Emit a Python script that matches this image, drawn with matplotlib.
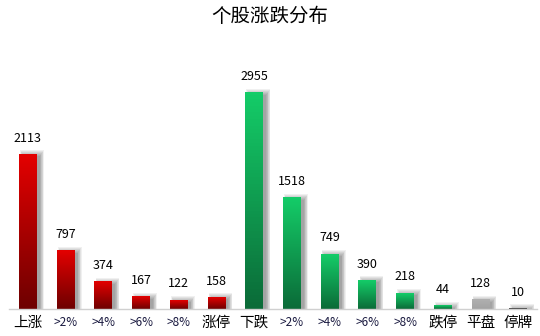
import numpy as np
import matplotlib.pyplot as plt
from matplotlib.colors import LinearSegmentedColormap

plt.rcParams['font.family'] = ['Noto Sans CJK SC', 'DejaVu Sans']

# 数据
labels = ['上涨', '>2%', '>4%', '>6%', '>8%', '涨停', '下跌', '>2%', '>4%', '>6%', '>8%', '跌停', '平盘', '停牌']
values = [2113, 797, 374, 167, 122, 158, 2955, 1518, 749, 390, 218, 44, 128, 10]
groups = ['r'] * 6 + ['g'] * 6 + ['gray', 'dark']

cmaps = {
    'r': LinearSegmentedColormap.from_list('r', ['#6e0000', '#e30000']),
    'g': LinearSegmentedColormap.from_list('g', ['#0b6b38', '#14cc68']),
    'gray': LinearSegmentedColormap.from_list('gray', ['#a3a3a3', '#b0b0b0']),
    'dark': LinearSegmentedColormap.from_list('dark', ['#404040', '#404040']),
}

fig = plt.figure(figsize=(5.4, 3.36), dpi=100)
ax = fig.add_axes([9 / 540, 27 / 336, 528 / 540, 256 / 336])
ymax = 3500
ax.set_xlim(-0.5, len(values) - 0.5)
ax.set_ylim(0, ymax)

w = 0.47
grad = np.linspace(0, 1, 64).reshape(-1, 1)
# 阴影的偏移（数据坐标）
dx = 0.11
px = ymax / 256
for i, (v, g) in enumerate(zip(values, groups)):
    # 模糊阴影
    for k in range(7):
        ax.bar(i + dx, v + (4 - k) * px, width=w + 0.16 - k * 0.035,
               bottom=0, color='black', alpha=0.06, linewidth=0, zorder=1)
    ax.imshow(grad, cmap=cmaps[g], origin='lower', aspect='auto',
              extent=(i - w / 2, i + w / 2, 0, v), zorder=2)
    ax.annotate(str(v), (i, v), xytext=(0, 7), textcoords='offset points',
                ha='center', va='bottom', fontsize=9, color='black', zorder=3)

ax.set_xlim(-0.5, len(values) - 0.5)
ax.set_ylim(0, ymax)
ax.set_xticks(range(len(labels)))
ax.set_xticklabels(labels)
for t, lab in zip(ax.get_xticklabels(), labels):
    if lab.startswith('>'):
        t.set_fontsize(8.5)
        t.set_color('#1a1a40')
    else:
        t.set_fontsize(10.5)
        t.set_color('black')
ax.tick_params(axis='x', length=0, pad=5)
ax.set_yticks([])
for s in ['top', 'right', 'left']:
    ax.spines[s].set_visible(False)
ax.spines['bottom'].set_color('#d0d0d0')
ax.spines['bottom'].set_linewidth(1)

fig.text(0.5, 1 - 17 / 336, '个股涨跌分布', ha='center', va='center', fontsize=14, color='black')

fig.savefig('out.png', dpi=100)
